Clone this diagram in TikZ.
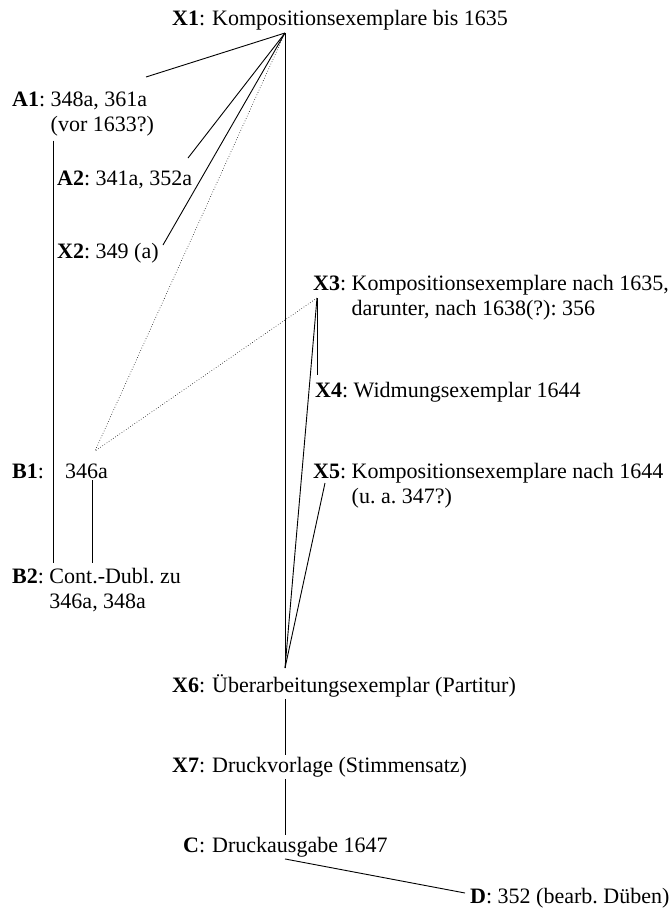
\documentclass[tikz,border=0pt]{standalone}
\usepackage{fontspec}
\setmainfont{Liberation Serif}
\tikzset{
  every node/.style={
    inner sep=2pt,
    font=\fontsize{22}{25}\selectfont\frenchspacing
  },
  entry/.style={anchor=base west},
  link/.style={line width=0.9pt},
  doubt/.style={line width=0.6pt, dotted}
}
\newcommand{\sig}[1]{\textbf{#1}:}
\newcommand{\lsig}[1]{\llap{\textbf{#1}:\hspace{7pt}}}
\newcommand{\twolines}[2]{\begin{tabular}[t]{@{}l@{}}#1\\#2\end{tabular}}

\begin{document}
\begin{tikzpicture}[x=1pt,y=-1pt]
    \useasboundingbox (0,0) rectangle (670,908);
    % the witnesses
    \node[entry] (x1) at (210,25) {\lsig{X1}Kompositionsexemplare bis 1635};
    \node[entry] (a1) at (10,106) {\sig{A1} \twolines{348a, 361a}{(vor 1633?)}};
    \node[entry] (a2) at (55,185) {\sig{A2} 341a, 352a};
    \node[entry] (x2) at (55,258) {\sig{X2} 349 (a)};
    \node[entry] (x3) at (311,290) {\sig{X3} \twolines{Kompositionsexemplare nach 1635,}{darunter, nach 1638(?): 356}};
    \node[entry] (x4) at (313,397) {\sig{X4} Widmungsexemplar 1644};
    \node[entry] (x5) at (311,478) {\sig{X5} \twolines{Kompositionsexemplare nach 1644}{(u. a. 347?)}};
    \node[entry] (b1) at (10,478) {\sig{B1}};
    \node[entry] (b1a) at (63,478) {346a};
    \node[entry] (b2) at (10,583) {\sig{B2} \twolines{Cont.-Dubl. zu}{346a, 348a}};
    \node[entry] (x6) at (210,692) {\lsig{X6}Überarbeitungsexemplar (Partitur)};
    \node[entry] (x7) at (210,772) {\lsig{X7}Druckvorlage (Stimmensatz)};
    \node[entry] (c) at (210,852) {\lsig{C}Druckausgabe 1647};
    \node[entry] (d) at (468,903) {\sig{D} 352 (bearb. Düben)};
    % where the lines meet
    \coordinate (top) at (285,33);
    \coordinate (bottom) at (285,668);
    \coordinate (a1end) at (146,77);
    \coordinate (a2end) at (188,158);
    \coordinate (x2end) at (163,245);
    \coordinate (b1dot) at (95,451);
    \coordinate (x3pt) at (317,298);
    \coordinate (x4top) at (317,375);
    \coordinate (x5pt) at (325,483);
    \coordinate (lspine) at (53,0);
    \coordinate (bspine) at (92,0);
    \coordinate (dend) at (465,893);
    % stemma
    \draw[link] (top) -- (a1end);
    \draw[link] (top) -- (a2end);
    \draw[link] (top) -- (x2end);
    \draw[doubt] (top) -- (b1dot);
    \draw[link] (top) -- (bottom);
    \draw[doubt] (x3pt) -- (b1dot);
    \draw[link] (x3pt) -- (x4top);
    \draw[link] (x3pt) -- (bottom);
    \draw[link] (x5pt) -- (bottom);
    \draw[link] (a1.south -| lspine) -- (b2.north -| lspine);
    \draw[link] (b1a.south -| bspine) -- (b2.north -| bspine);
    \draw[link] (x6.south -| top) -- (x7.north -| top);
    \draw[link] (x7.south -| top) -- (c.north -| top);
    \draw[link] (c.south -| top) -- (dend);
\end{tikzpicture}
\end{document}
